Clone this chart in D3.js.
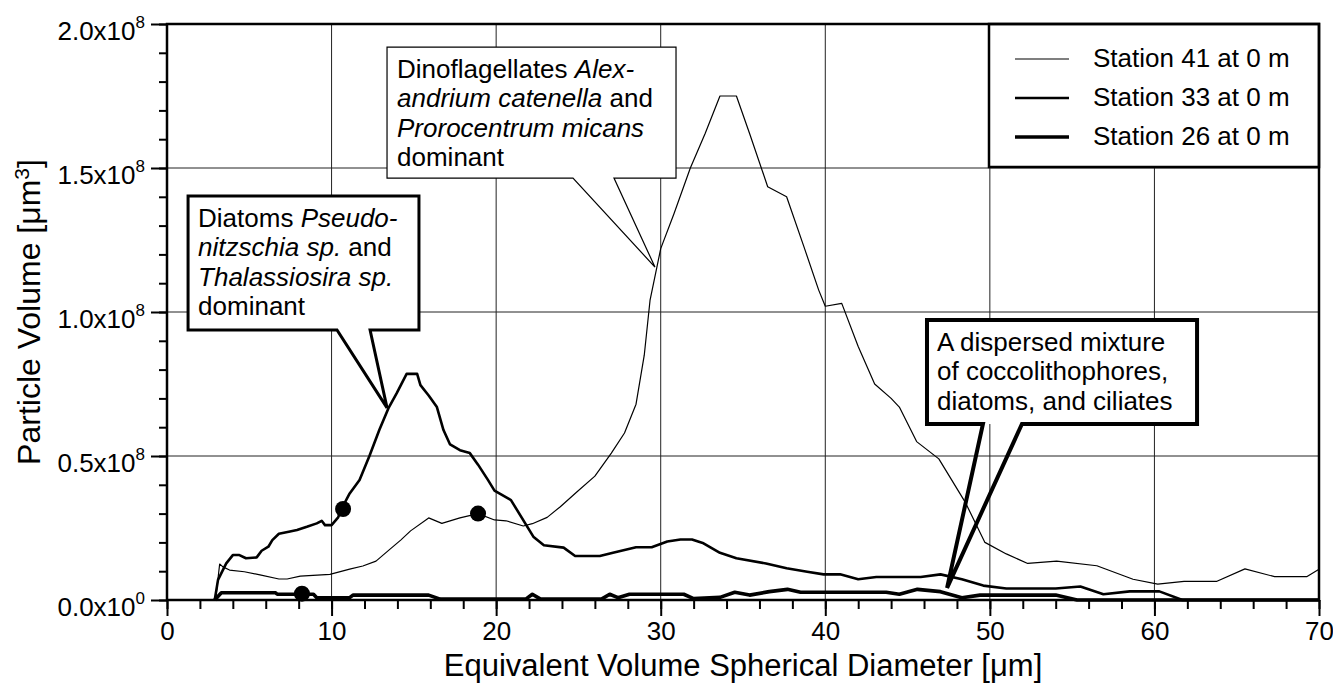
<!DOCTYPE html>
<html>
<head>
<meta charset="utf-8">
<script src="https://cdn.jsdelivr.net/npm/d3@7"></script>
<style>
  body { margin: 0; background: #fff; }
  svg { display: block; font-family: "Liberation Sans", Arial, Helvetica, sans-serif; }
</style>
</head>
<body>
<div id="chart"></div>
<script>
// volumes are given in units of 10^8 um^3
const yUnit = 1e8;

const diam41 = [2.95, 3.2, 3.4, 3.8, 4.7, 5.65, 6.8, 7.3, 8.1, 9.9, 11.1, 11.9, 12.7, 13.5, 14.2, 14.8,
  15.9, 16.7, 17.8, 18.9, 19.9, 20.6, 21.65, 22.2, 23.1, 23.9, 24.9, 26.0, 27.0, 27.8, 28.5, 29.0,
  29.35, 30.0, 30.8, 31.8, 32.7, 33.6, 34.6, 35.4, 36.5, 37.65, 38.7, 39.6, 40.0, 41.0, 42.0, 43.0,
  44.0, 44.5, 45.55, 46.9, 48.5, 49.7, 51.0, 52.3, 54.06, 56.5, 58.7, 60.2, 61.8, 63.8, 65.5, 67.3,
  69.25, 70];
const vol41 = [0, 0.125, 0.115, 0.104, 0.098, 0.087, 0.073, 0.073, 0.083, 0.089, 0.107, 0.118, 0.135, 0.174, 0.208, 0.24,
  0.285, 0.266, 0.285, 0.30, 0.278, 0.275, 0.257, 0.265, 0.287, 0.324, 0.375, 0.43, 0.51, 0.58, 0.68, 0.85,
  1.04, 1.22, 1.34, 1.50, 1.62, 1.75, 1.75, 1.62, 1.435, 1.40, 1.227, 1.076, 1.02, 1.03, 0.88, 0.75,
  0.70, 0.67, 0.55, 0.49, 0.34, 0.20, 0.16, 0.127, 0.135, 0.119, 0.072, 0.055, 0.065, 0.065, 0.108, 0.081,
  0.081, 0.107];

const diam33 = [2.9, 3.1, 3.5, 3.6, 4.0, 4.4, 4.8, 5.45, 5.75, 6.16, 6.4, 6.8, 7.4, 7.9, 8.5, 9.1,
  9.4, 9.6, 10.0, 10.4, 10.6, 11.1, 11.7, 12.3, 12.9, 13.45, 13.96, 14.56, 15.2, 15.4, 15.9, 16.4,
  16.8, 17.2, 17.8, 18.4, 18.9, 19.5, 19.9, 20.9, 22.26, 22.9, 24.1, 24.8, 26.3, 27.1, 28.5, 29.45,
  30.4, 31.2, 31.9, 32.6, 33.6, 34.6, 36.4, 37.65, 38.9, 39.9, 40.9, 42.0, 43.1, 45.8, 47.0, 48.3,
  49.6, 51.0, 54.0, 55.5, 56.9, 58.5, 60.3, 61.7, 70];
const vol33 = [0, 0.07, 0.116, 0.127, 0.156, 0.156, 0.145, 0.148, 0.171, 0.185, 0.208, 0.23, 0.237, 0.243, 0.254, 0.266,
  0.275, 0.26, 0.26, 0.287, 0.316, 0.37, 0.417, 0.50, 0.59, 0.665, 0.718, 0.785, 0.785, 0.746, 0.71, 0.67,
  0.59, 0.54, 0.52, 0.51, 0.47, 0.417, 0.38, 0.347, 0.22, 0.19, 0.182, 0.153, 0.153, 0.164, 0.183, 0.183,
  0.203, 0.21, 0.21, 0.197, 0.164, 0.145, 0.127, 0.11, 0.098, 0.089, 0.089, 0.072, 0.08, 0.08, 0.089, 0.072,
  0.05, 0.04, 0.04, 0.047, 0.02, 0.03, 0.03, 0, 0];

const diam26 = [2.9, 3.3, 6.6, 6.7, 8.9, 9.1, 11.1, 11.3, 15.9, 16.6, 21.8, 22.2, 22.7, 26.4, 26.9, 27.4,
  28.1, 31.4, 32.0, 33.6, 34.5, 35.4, 36.6, 37.7, 38.5, 43.7, 44.5, 45.6, 47.0, 48.3, 49.4, 54.0,
  55.3, 70];
const vol26 = [0, 0.025, 0.025, 0.02, 0.02, 0.008, 0.008, 0.017, 0.017, 0.003, 0.003, 0.02, 0.003, 0.003, 0.02, 0.008,
  0.02, 0.02, 0.005, 0.009, 0.027, 0.017, 0.029, 0.037, 0.027, 0.027, 0.02, 0.037, 0.029, 0.008, 0.017, 0.017,
  0, 0];

const stationNames = ["Station 41 at 0 m", "Station 33 at 0 m", "Station 26 at 0 m"];
const stationWidths = [1.2, 2.6, 3.6];

// marked sample points, one per station
const markDiam = [18.9, 10.7, 8.2];
const markVol = [0.30, 0.316, 0.022];

const xTicks = [0, 10, 20, 30, 40, 50, 60, 70];
const yTicks = [0, 0.5, 1.0, 1.5, 2.0];

const margin = {top: 24, right: 14, bottom: 88, left: 167};
const width = 1333 - margin.left - margin.right,
      height = 688 - margin.top - margin.bottom;

const svg = d3.select("#chart")
  .append("svg")
  .attr("width", width + margin.left + margin.right)
  .attr("height", height + margin.top + margin.bottom)
  .append("g")
  .attr("transform", `translate(${margin.left},${margin.top})`);

const x = d3.scaleLinear().domain([0, 70]).range([0, width]);
const y = d3.scaleLinear().domain([0, 2e8]).range([height, 0]);

// grid
svg.append("g").selectAll("line")
  .data(xTicks.slice(1, -1))
  .join("line")
  .attr("x1", d => x(d)).attr("x2", d => x(d))
  .attr("y1", 0).attr("y2", height)
  .attr("stroke", "#222").attr("stroke-width", 1);
svg.append("g").selectAll("line")
  .data(yTicks.slice(1, -1))
  .join("line")
  .attr("x1", 0).attr("x2", width)
  .attr("y1", d => y(d * yUnit)).attr("y2", d => y(d * yUnit))
  .attr("stroke", "#222").attr("stroke-width", 1);

// axes
const xMinor = d3.range(0, 70.01, 2);
const yMinor = d3.range(0, 2.001, 0.1).map(d => d * yUnit);

svg.append("g")
  .attr("transform", `translate(0,${height})`)
  .call(d3.axisBottom(x).tickValues(xMinor).tickSize(9).tickFormat(""))
  .call(g => g.select(".domain").remove())
  .call(g => g.selectAll("line").attr("stroke-width", 2));

const xAxis = svg.append("g")
  .attr("transform", `translate(0,${height})`)
  .call(d3.axisBottom(x).tickValues(xTicks).tickSize(16).tickFormat(d => d))
  .call(g => g.select(".domain").remove())
  .call(g => g.selectAll("line").attr("stroke-width", 2));
xAxis.selectAll("text")
  .attr("y", 40).attr("dy", null)
  .attr("font-size", 26).attr("fill", "#000")
  .attr("font-family", "'Liberation Sans', Arial, sans-serif");

svg.append("g")
  .call(d3.axisLeft(y).tickValues(yMinor).tickSize(8).tickFormat(""))
  .call(g => g.select(".domain").remove())
  .call(g => g.selectAll("line").attr("stroke-width", 2));

const yAxis = svg.append("g")
  .call(d3.axisLeft(y).tickValues(yTicks.map(d => d * yUnit)).tickSize(16).tickPadding(6))
  .call(g => g.select(".domain").remove())
  .call(g => g.selectAll("line").attr("stroke-width", 2));
yAxis.selectAll("text")
  .attr("dy", 15)
  .attr("font-size", 26).attr("fill", "#000")
  .attr("font-family", "'Liberation Sans', Arial, sans-serif")
  .text(null)
  .each(function(d) {
    const t = d3.select(this);
    t.append("tspan").text((d / yUnit).toFixed(1) + "x10");
    t.append("tspan").attr("dy", -12).attr("font-size", 17).text(d === 0 ? "0" : "8");
  });

// curves
const line = d3.line().x(d => x(d[0])).y(d => y(d[1] * yUnit));
const series = [d3.zip(diam41, vol41), d3.zip(diam33, vol33), d3.zip(diam26, vol26)];

svg.append("g").selectAll("path")
  .data(series)
  .join("path")
  .attr("d", line)
  .attr("fill", "none")
  .attr("stroke", "#000")
  .attr("stroke-linejoin", "round")
  .attr("stroke-width", (d, i) => stationWidths[i]);

svg.append("g").selectAll("circle")
  .data(d3.zip(markDiam, markVol))
  .join("circle")
  .attr("cx", d => x(d[0]))
  .attr("cy", d => y(d[1] * yUnit))
  .attr("r", 8)
  .attr("fill", "#000");

// callouts: box corners, pointer base and tip in data units
const callouts = [
  {box: [13.37, 30.93, 1.92, 1.465], base: [24.67, 27.16], tip: [29.65, 1.156], stroke: 1.2,
   lines: [[["Dinoflagellates ", false], ["Alex-", true]],
           [["andrium catenella", true], [" and", false]],
           [["Prorocentrum micans", true]],
           [["dominant", false]]]},
  {box: [1.28, 15.31, 1.403, 0.9375], base: [10.33, 12.34], tip: [13.37, 0.667], stroke: 3,
   lines: [[["Diatoms ", false], ["Pseudo-", true]],
           [["nitzschia sp.", true], [" and", false]],
           [["Thalassiosira sp.", true]],
           [["dominant", false]]]},
  {box: [46.18, 62.59, 0.972, 0.611], base: [49.58, 51.95], tip: [47.4, 0.042], stroke: 4,
   lines: [[["A dispersed mixture", false]],
           [["of coccolithophores,", false]],
           [["diatoms, and ciliates", false]]]}
];

const notes = svg.append("g");
callouts.forEach(c => {
  const x0 = x(c.box[0]), x1 = x(c.box[1]), y0 = y(c.box[2] * yUnit), y1 = y(c.box[3] * yUnit);
  notes.append("rect")
    .attr("x", x0).attr("y", y0)
    .attr("width", x1 - x0).attr("height", y1 - y0)
    .attr("fill", "#fff");
  const pts = [[x0, y0], [x1, y0], [x1, y1], [x(c.base[1]), y1],
               [x(c.tip[0]), y(c.tip[1] * yUnit)], [x(c.base[0]), y1], [x0, y1]];
  notes.append("path")
    .attr("d", d3.line()(pts) + "Z")
    .attr("fill", "none")
    .attr("stroke", "#000")
    .attr("stroke-width", c.stroke)
    .attr("stroke-linejoin", "miter");
  const txt = notes.append("text")
    .attr("font-size", 26)
    .attr("fill", "#000");
  c.lines.forEach((ln, i) => {
    ln.forEach((seg, j) => {
      const ts = txt.append("tspan").text(seg[0]).attr("font-style", seg[1] ? "italic" : "normal");
      if (j === 0) ts.attr("x", x0 + 10).attr("y", y0 + 31 + i * 29.3);
    });
  });
});

// legend
const leg = svg.append("g").attr("transform", `translate(${width - 330},0)`);
leg.append("rect")
  .attr("x", 0).attr("y", 0)
  .attr("width", 330).attr("height", 143)
  .attr("fill", "#fff")
  .attr("stroke", "#000")
  .attr("stroke-width", 2.5);
stationNames.forEach((name, i) => {
  const ly = 35 + i * 39;
  leg.append("line")
    .attr("x1", 26).attr("x2", 80)
    .attr("y1", ly).attr("y2", ly)
    .attr("stroke", "#000")
    .attr("stroke-width", stationWidths[i]);
  leg.append("text")
    .attr("x", 104).attr("y", ly + 8)
    .attr("font-size", 26)
    .text(name);
});

// frame
svg.append("rect")
  .attr("x", 0).attr("y", 0)
  .attr("width", width).attr("height", height)
  .attr("fill", "none")
  .attr("stroke", "#000")
  .attr("stroke-width", 2.5);

// axis titles
svg.append("text")
  .attr("x", width / 2).attr("y", height + 76)
  .attr("text-anchor", "middle")
  .attr("font-size", 31)
  .text("Equivalent Volume Spherical Diameter [μm]");

const yt = svg.append("text")
  .attr("transform", `translate(${40 - margin.left},${height / 2}) rotate(-90)`)
  .attr("text-anchor", "middle")
  .attr("font-size", 32);
yt.append("tspan").text("Particle Volume [μm");
yt.append("tspan").attr("dy", -11).attr("font-size", 21).text("3");
yt.append("tspan").attr("dy", 11).text("]");
</script>
</body>
</html>
